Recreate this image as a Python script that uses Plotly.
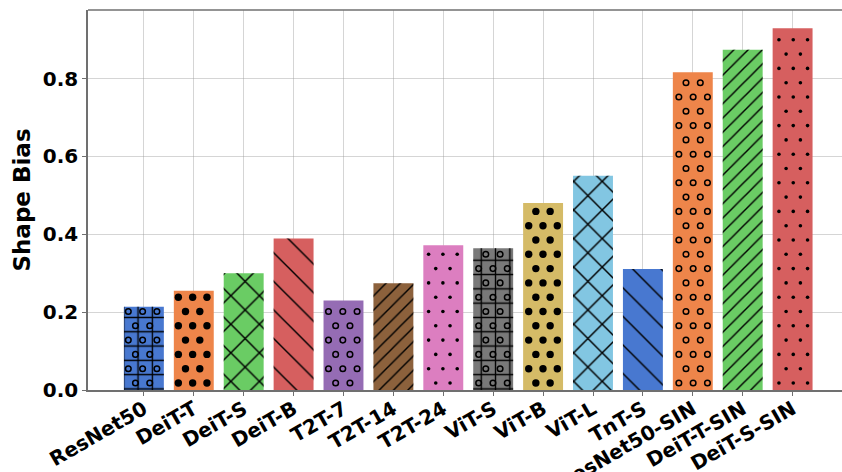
import math
import plotly.graph_objects as go

# ---- data -------------------------------------------------------------
models = ["ResNet50", "DeiT-T", "DeiT-S", "DeiT-B", "T2T-7", "T2T-14", "T2T-24",
          "ViT-S", "ViT-B", "ViT-L", "TnT-S", "ResNet50-SIN", "DeiT-T-SIN", "DeiT-S-SIN"]
shape_bias = [0.214, 0.255, 0.300, 0.389, 0.230, 0.274, 0.372,
              0.364, 0.480, 0.550, 0.311, 0.816, 0.874, 0.929]
y_ticks = [0.0, 0.2, 0.4, 0.6, 0.8]

# ---- style ------------------------------------------------------------
colors = ["#4878d0", "#ee854a", "#6acc64", "#d65f5f", "#956cb4", "#8c613c", "#dc7ec0",
          "#797979", "#d5bb67", "#82c6e2", "#4878d0", "#ee854a", "#6acc64", "#d65f5f"]
hatches = ["+o", "O", "x", "\\", "o", "//", ".", "+o", "O", "x", "\\", "o", "//", "."]

W, H = 842, 472
M = dict(l=88, r=0, t=10, b=82)
X_RANGE = [-1.12, 13.99]
Y_RANGE = [0.0, 0.976]
BAR_W = 0.8
FONT = "DejaVu Sans"

# line hatches -> plotly pattern (shape, size, solidity)
line_pattern = {
    "x": ("x", 20.2, 0.14),
    "\\": ("\\", 20.2, 0.07),
    "//": ("/", 10.1, 0.14),
    "+o": ("+", 14.3, 0.18),
}
pat_shape, pat_size, pat_sol = [], [], []
for h in hatches:
    s, z, d = line_pattern.get(h, ("", 10, 0.3))
    pat_shape.append(s)
    pat_size.append(z)
    pat_sol.append(d)

x_pos = list(range(len(models)))

fig = go.Figure()
# coloured bars
fig.add_trace(go.Bar(
    x=x_pos, y=shape_bias, width=BAR_W,
    marker=dict(color=colors, line=dict(width=0)),
    showlegend=False, hoverinfo="skip",
))
# black line hatching on a transparent copy of the same bars
fig.add_trace(go.Bar(
    x=x_pos, y=shape_bias, width=BAR_W,
    marker=dict(
        color="rgba(0,0,0,0)",
        line=dict(width=0),
        pattern=dict(shape=pat_shape, size=pat_size, solidity=pat_sol,
                     fillmode="replace", fgcolor="#000000", fgopacity=1,
                     bgcolor="rgba(0,0,0,0)"),
    ),
    showlegend=False, hoverinfo="skip",
))

# ---- circle / dot hatches: staggered lattice clipped to each bar ------
plot_w = W - M["l"] - M["r"]
plot_h = H - M["t"] - M["b"]
sx = plot_w / (X_RANGE[1] - X_RANGE[0])
sy = plot_h / (Y_RANGE[1] - Y_RANGE[0])
P = 14.3                  # hatch period, px
ROW0, COL0 = 72.7, 583.7  # lattice phase, px from plot corner


def lattice(i, r):
    left = (i - BAR_W / 2 - X_RANGE[0]) * sx
    right = (i + BAR_W / 2 - X_RANGE[0]) * sx
    top = (Y_RANGE[1] - shape_bias[i]) * sy
    bottom = plot_h
    xs, ys = [], []
    kmin = math.floor((top - ROW0) / P) - 1
    kmax = math.ceil((bottom - ROW0) / P) + 1
    for k in range(kmin, kmax + 1):
        yp = ROW0 + k * P
        if yp < top + 0.8 * r or yp > bottom + r:
            continue
        off = P / 2 if k % 2 else 0.0
        jmin = math.floor((left - COL0 - off) / P) - 1
        jmax = math.ceil((right - COL0 - off) / P) + 1
        for j in range(jmin, jmax + 1):
            xp = COL0 + off + j * P
            if left + 0.8 * r <= xp <= right - 0.8 * r:
                xs.append(X_RANGE[0] + xp / sx)
                ys.append(Y_RANGE[1] - yp / sy)
    return xs, ys


dot_styles = {
    "o": dict(symbol="circle-open", size=5.6, color="black", line=dict(width=1.5, color="black")),
    "O": dict(symbol="circle", size=7.4, color="black", line=dict(width=0)),
    ".": dict(symbol="circle", size=3.6, color="black", line=dict(width=0)),
}
for key, style in dot_styles.items():
    xs, ys = [], []
    for i, h in enumerate(hatches):
        if key in h:
            px, py = lattice(i, style["size"] / 2)
            xs += px
            ys += py
    fig.add_trace(go.Scatter(x=xs, y=ys, mode="markers", marker=style,
                             showlegend=False, hoverinfo="skip", cliponaxis=True))

# ---- axes -------------------------------------------------------------
spine = "#707070"
grid = "rgba(150,150,150,0.4)"
tick_font = dict(family=FONT, size=20, color="black", weight="bold")

fig.update_xaxes(
    range=X_RANGE, tickmode="array", tickvals=x_pos, ticktext=models, tickangle=-30,
    tickfont=tick_font, showgrid=True, gridcolor=grid, gridwidth=1,
    showline=True, linecolor=spine, linewidth=1.6,
    ticks="outside", ticklen=4, tickcolor=spine, tickwidth=1.2,
    zeroline=False, layer="above traces", automargin=False, ticklabelstandoff=-6,
)
fig.update_yaxes(
    range=Y_RANGE, tickmode="array", tickvals=y_ticks,
    ticktext=[f"{v:.1f}" for v in y_ticks],
    tickfont=tick_font, showgrid=True, gridcolor=grid, gridwidth=1,
    showline=True, linecolor=spine, linewidth=1.6,
    ticks="outside", ticklen=4, tickcolor=spine, tickwidth=1.2,
    zeroline=False, layer="above traces", automargin=False,
    title=dict(text="Shape Bias", font=dict(family=FONT, size=23, color="black", weight="bold"),
               standoff=6),
)

# top spine
fig.add_shape(type="line", xref="paper", yref="paper", x0=0, x1=1, y0=1, y1=1,
              line=dict(color=spine, width=1.6), layer="above")

fig.update_layout(
    width=W, height=H, margin=M,
    plot_bgcolor="white", paper_bgcolor="white",
    barmode="overlay",
)

fig.write_html("out.html")
